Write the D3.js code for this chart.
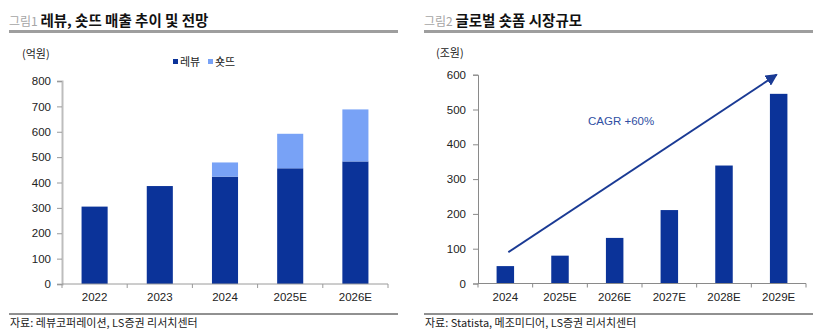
<!DOCTYPE html>
<html>
<head>
<meta charset="utf-8">
<script src="https://cdn.jsdelivr.net/npm/d3@7"></script>
<style>
  html, body { margin: 0; padding: 0; background: #fff; }
  svg text { font-family: "Liberation Sans Narrow", "Arial Narrow", "Liberation Sans", sans-serif; }
  .kr { font-family: "Noto Sans CJK KR", "Noto Sans", sans-serif; }
</style>
</head>
<body>
<svg id="c" width="813" height="334"></svg>
<script>
// ---- Figure 1: Revu / Shortdd revenue (100M KRW)
const years1 = ["2022", "2023", "2024", "2025E", "2026E"];
const revu = [305, 386, 423, 456, 483];
const shortdd = [0, 0, 56, 136, 205];
const yTicks1 = [0, 100, 200, 300, 400, 500, 600, 700, 800];

// ---- Figure 2: global short-form market (trillion KRW)
const years2 = ["2024", "2025E", "2026E", "2027E", "2028E", "2029E"];
const market = [50, 80, 131, 211, 339, 545];
const yTicks2 = [0, 100, 200, 300, 400, 500, 600];
const cagrFrom = { year: "2024", value: 90 };
const cagrTo = { year: "2029E", value: 600 };

const DARK = "#0b3399";
const LIGHT = "#78a2f6";

const svg = d3.select("#c");

// shared header / footer drawing
function header(x0, x1, num, title) {
  const t = svg.append("text").attr("class", "kr").attr("x", x0).attr("y", 26);
  t.append("tspan").attr("fill", "#a6a6a6").attr("font-size", 12).text(num + " ");
  t.append("tspan").attr("fill", "#111").attr("font-size", 14.5).attr("font-weight", 700).text(title);
  svg.append("rect").attr("x", x0).attr("y", 30).attr("width", x1 - x0).attr("height", 3).attr("fill", "#9e9e9e");
}
function footer(x0, x1, text) {
  svg.append("line").attr("x1", x0).attr("x2", x1).attr("y1", 314).attr("y2", 314)
    .attr("stroke", "#222").attr("stroke-width", 1);
  svg.append("text").attr("class", "kr").attr("x", x0 + 1).attr("y", 327)
    .attr("font-size", 11).attr("fill", "#222").text(text);
}

header(9, 398, "그림1", "레뷰, 숏뜨 매출 추이 및 전망");
header(424, 813, "그림2", "글로벌 숏폼 시장규모");
footer(9, 398, "자료: 레뷰코퍼레이션, LS증권 리서치센터");
footer(424, 813, "자료: Statista, 메조미디어, LS증권 리서치센터");

// ---------- chart 1 ----------
{
  const x = d3.scaleBand().domain(years1).range([62, 388]).paddingInner(0.6).paddingOuter(0.3);
  const xAxisScale = d3.scaleBand().domain(years1).range([62, 388]);
  const y = d3.scaleLinear().domain([0, 800]).range([284, 81]);
  const g = svg.append("g");

  svg.append("text").attr("class", "kr").attr("x", 22).attr("y", 58)
    .attr("font-size", 11).attr("fill", "#222").text("(억원)");

  // y axis
  const ya = g.append("g").attr("transform", "translate(62,0)")
    .call(d3.axisLeft(y).tickValues(yTicks1).tickSize(5).tickPadding(6));
  ya.select(".domain").attr("stroke", "#bdbdbd").attr("stroke-width", 2);
  ya.selectAll(".tick line").attr("stroke", "#9a9a9a");
  ya.selectAll("text").attr("font-size", 11.5).attr("fill", "#222");

  // stacked bars
  const stack = d3.stack().keys(["revu", "shortdd"])(
    years1.map((yr, i) => ({ year: yr, revu: revu[i], shortdd: shortdd[i] })));
  const colors = [DARK, LIGHT];
  stack.forEach((layer, k) => {
    g.append("g").attr("fill", colors[k]).selectAll("rect").data(layer).join("rect")
      .attr("x", d => x(d.data.year))
      .attr("width", x.bandwidth())
      .attr("y", d => y(d[1]))
      .attr("height", d => y(d[0]) - y(d[1]));
  });

  // x axis with ticks at band boundaries
  const xa = g.append("g").attr("transform", "translate(0,284)");
  xa.append("line").attr("x1", 62).attr("x2", 388).attr("stroke", "#9a9a9a");
  const bounds = years1.map(d => xAxisScale(d)).concat([388]);
  xa.selectAll(".tb").data(bounds).join("line").attr("class", "tb")
    .attr("x1", d => d).attr("x2", d => d).attr("y1", 0).attr("y2", 4).attr("stroke", "#9a9a9a");
  xa.selectAll("text").data(years1).join("text")
    .attr("x", d => xAxisScale(d) + xAxisScale.bandwidth() / 2).attr("y", 17)
    .attr("text-anchor", "middle").attr("font-size", 11.5).attr("fill", "#222").text(d => d);

  // legend
  const lg = svg.append("g").attr("transform", "translate(173,62)");
  [["레뷰", DARK, 0], ["숏뜨", LIGHT, 35]].forEach(([name, c, dx]) => {
    lg.append("rect").attr("x", dx).attr("y", -3).attr("width", 5).attr("height", 5).attr("fill", c);
    lg.append("text").attr("class", "kr").attr("x", dx + 7).attr("y", 4)
      .attr("font-size", 11).attr("fill", "#222").text(name);
  });
}

// ---------- chart 2 ----------
{
  const xAxisScale = d3.scaleBand().domain(years2).range([478, 806]);
  const x = d3.scaleBand().domain(years2).range([478, 806]).paddingInner(0.68).paddingOuter(0.34);
  const y = d3.scaleLinear().domain([0, 600]).range([283.5, 74.7]);
  const g = svg.append("g");

  svg.append("text").attr("class", "kr").attr("x", 436).attr("y", 57)
    .attr("font-size", 11).attr("fill", "#222").text("(조원)");

  const ya = g.append("g").attr("transform", "translate(478,0)")
    .call(d3.axisLeft(y).tickValues(yTicks2).tickSize(5).tickPadding(7));
  ya.select(".domain").attr("stroke", "#8a8a8a");
  ya.selectAll(".tick line").attr("stroke", "#8a8a8a");
  ya.selectAll("text").attr("font-size", 11.5).attr("fill", "#222");

  g.append("g").attr("fill", DARK).selectAll("rect").data(years2).join("rect")
    .attr("x", d => x(d)).attr("width", x.bandwidth())
    .attr("y", (d, i) => y(market[i]))
    .attr("height", (d, i) => y(0) - y(market[i]));

  const xa = g.append("g").attr("transform", "translate(0,283.5)");
  xa.append("line").attr("x1", 478).attr("x2", 806).attr("stroke", "#8a8a8a");
  const bounds = years2.map(d => xAxisScale(d)).concat([806]);
  xa.selectAll(".tb").data(bounds).join("line").attr("class", "tb")
    .attr("x1", d => d).attr("x2", d => d).attr("y1", 0).attr("y2", 4).attr("stroke", "#8a8a8a");
  xa.selectAll("text").data(years2).join("text")
    .attr("x", d => xAxisScale(d) + xAxisScale.bandwidth() / 2).attr("y", 17)
    .attr("text-anchor", "middle").attr("font-size", 11.5).attr("fill", "#222").text(d => d);

  // CAGR arrow
  const ARROW = "#1a3a94";
  svg.append("defs").append("marker").attr("id", "ah")
    .attr("viewBox", "0 0 10 10").attr("refX", 9).attr("refY", 5)
    .attr("markerWidth", 6).attr("markerHeight", 6).attr("orient", "auto")
    .append("path").attr("d", "M0,0 L10,5 L0,10 z").attr("fill", ARROW);
  const cx = d => xAxisScale(d) + xAxisScale.bandwidth() / 2;
  svg.append("line")
    .attr("x1", cx(cagrFrom.year) + 3).attr("y1", y(cagrFrom.value))
    .attr("x2", cx(cagrTo.year) - 2).attr("y2", y(cagrTo.value))
    .attr("stroke", ARROW).attr("stroke-width", 2).attr("marker-end", "url(#ah)");
  svg.append("text").attr("x", 588).attr("y", 125).attr("font-size", 11.5)
    .attr("font-family", "Liberation Sans, Arial, sans-serif")
    .attr("fill", "#2f4fa3").text("CAGR +60%");
}
</script>
</body>
</html>
